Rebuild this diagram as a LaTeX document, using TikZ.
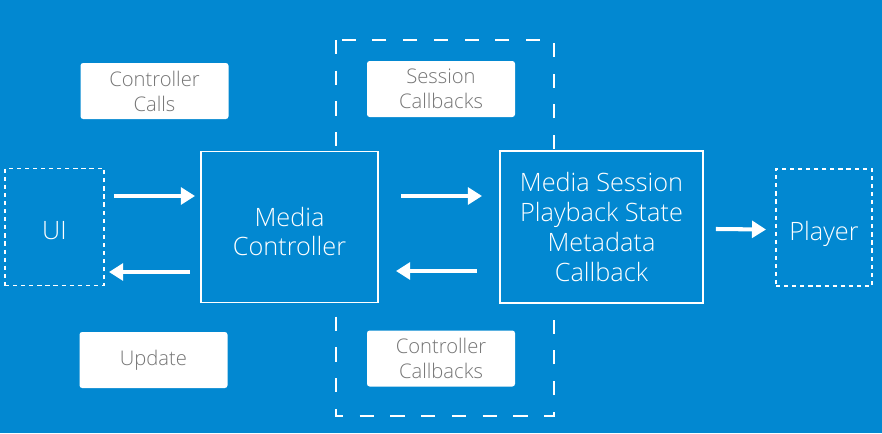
\documentclass[tikz,border=0pt]{standalone}
\usepackage{fontspec}
\setmainfont{Open Sans}[UprightFont=* Light]
\usetikzlibrary{arrows.meta,calc}
\definecolor{bgblue}{RGB}{2,136,209}
\definecolor{labelgrey}{RGB}{117,117,117}
\newcommand{\pix}{0.02cm}
\tikzset{
  boxtext/.style={text=white,align=center,inner sep=0pt,font=\fontsize{14.4}{17}\selectfont},
  mainbox/.style={draw=white,line width=1.1pt,fill=bgblue,inner sep=0pt},
  extbox/.style={draw=white,line width=1.1pt,dash pattern=on 2.4pt off 2.2pt,inner sep=0pt},
  tagbox/.style={fill=white,rounded corners=1.5pt,text=labelgrey,align=center,inner sep=0pt,
    minimum width=148*\pix,minimum height=56*\pix,font=\fontsize{11.5}{14.2}\selectfont},
  arr/.style={white,line width=2.3pt,-{Triangle[length=8pt,width=9.5pt]}}
}
\begin{document}
\begin{tikzpicture}[x=\pix,y=-\pix]
      \fill[bgblue] (0,0) rectangle (882,433);
      \useasboundingbox (0,0) rectangle (882,433);

      % dashed group round the callbacks
      \draw[white,line width=1.1pt,dash pattern=on 8pt off 9.5pt] (336,40) rectangle (554,416);

      \node[extbox,minimum width=99*\pix,minimum height=117*\pix,
        label={[boxtext,yshift=-2.3pt]center:UI}] (ui) at (54.5,227) {};
      \node[mainbox,minimum width=177*\pix,minimum height=151*\pix,
        label={[boxtext,yshift=-2.6pt]center:Media\\Controller}] (ctrl) at (289.5,227) {};
      \node[mainbox,minimum width=203*\pix,minimum height=152*\pix,
        label={[boxtext]center:Media Session\\Playback State\\Metadata\\Callback}] (sess) at (601.5,227) {};
      \node[extbox,minimum width=96*\pix,minimum height=117*\pix,
        label={[boxtext,yshift=-3.4pt]center:Player}] (player) at (824,227.5) {};

      \node[tagbox] (calls) at (154.5,91) {Controller\\Calls};
      \node[tagbox] (update) at (153.5,360) {Update};
      \node[tagbox] (scb) at (441,89) {Session\\Callbacks};
      \node[tagbox] (ccb) at (441,358.5) {Controller\\Callbacks};

      \draw[arr] ($(ui.east)+(9,-31)$) -- ($(ctrl.west)+(-5,-31)$);
      \draw[arr] ($(ctrl.west)+(-10,45)$) -- ($(ui.east)+(4,45)$);
      \draw[arr] ($(ctrl.east)+(22,-31)$) -- ($(sess.west)+(-17,-31)$);
      \draw[arr] ($(sess.west)+(-22,44)$) -- ($(ctrl.east)+(17,44)$);
      \draw[arr] ($(sess.east)+(12,2)$) -- ($(player.west)+(-9,2)$);
    \end{tikzpicture}
\end{document}
